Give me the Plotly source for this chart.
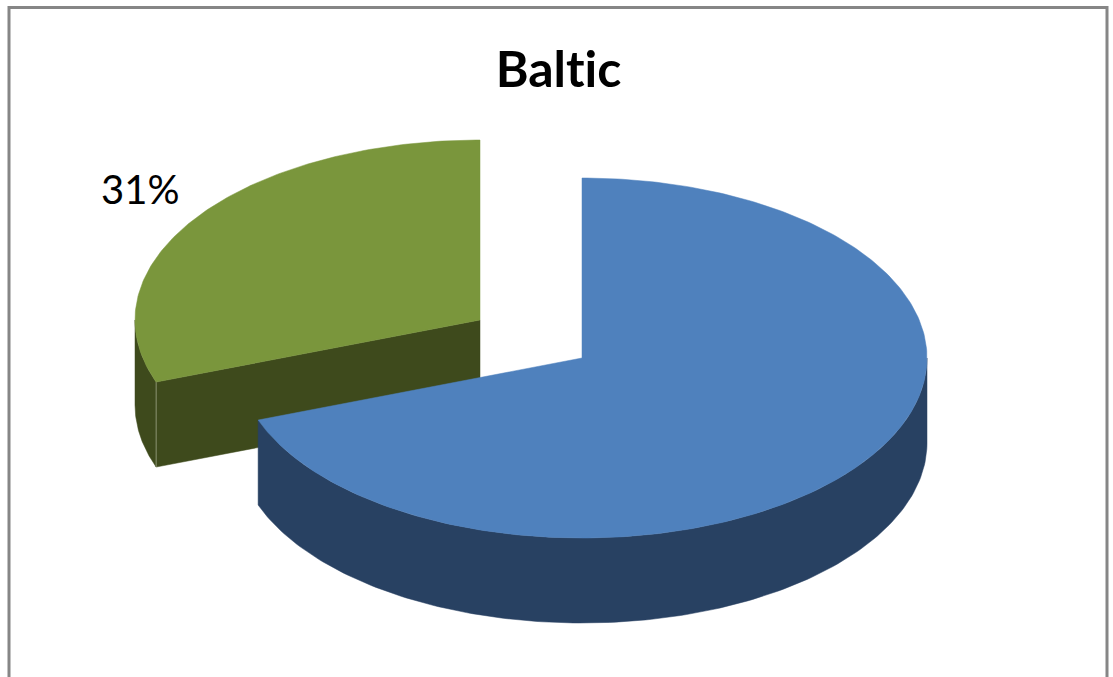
import numpy as np
import plotly.graph_objects as go

TITLE = "Baltic"
CATEGORIES = ["Other", "Selected"]
SHARES = [69.4, 30.6]
LABELS = ["", "31%"]
TOP_COLORS = ["#4f81bd", "#7a963c"]
SIDE_COLORS = ["#284162", "#3e4a1c"]

W, H = 1113, 677
RX, RY, DEPTH = 345, 180, 85
C_BLUE = (582, 358)
C_GREEN = (480, 320)


def arc(c, t0, t1, dy=0, n=160):
    t = np.radians(np.linspace(t0, t1, n))
    return c[0] + RX * np.sin(t), c[1] - RY * np.cos(t) + dy


def poly(xs, ys, color, name):
    return go.Scatter(x=np.r_[xs, xs[0]], y=np.r_[ys, ys[0]], mode="lines", fill="toself",
                      fillcolor=color, line=dict(color=color, width=0.5),
                      hoverinfo="name", name=name, showlegend=False)


split = 360 * SHARES[1] / sum(SHARES)  # green runs anticlockwise from 12 o'clock
fig = go.Figure()

# green slice: outer wall, cut wall, top
ax, ay = arc(C_GREEN, -90, -split)
bx, by = arc(C_GREEN, -split, -90, DEPTH)
fig.add_trace(poly(np.r_[ax, bx], np.r_[ay, by], SIDE_COLORS[1], CATEGORIES[1]))
ex, ey = arc(C_GREEN, -split, -split, n=1)
fig.add_trace(poly(np.array([C_GREEN[0], ex[0], ex[0], C_GREEN[0]]),
                   np.array([C_GREEN[1], ey[0], ey[0] + DEPTH, C_GREEN[1] + DEPTH]),
                   SIDE_COLORS[1], CATEGORIES[1]))
fig.add_trace(go.Scatter(x=[ex[0], ex[0]], y=[ey[0], ey[0] + DEPTH], mode="lines",
                         line=dict(color="#8a9270", width=1), hoverinfo="skip", showlegend=False))
tx, ty = arc(C_GREEN, 0, -split)
fig.add_trace(poly(np.r_[C_GREEN[0], tx], np.r_[C_GREEN[1], ty], TOP_COLORS[1], CATEGORIES[1]))

# blue slice: outer wall, top
ax, ay = arc(C_BLUE, 90, 360 - split)
bx, by = arc(C_BLUE, 360 - split, 90, DEPTH)
fig.add_trace(poly(np.r_[ax, bx], np.r_[ay, by], SIDE_COLORS[0], CATEGORIES[0]))
tx, ty = arc(C_BLUE, 0, 360 - split, n=300)
fig.add_trace(poly(np.r_[C_BLUE[0], tx], np.r_[C_BLUE[1], ty], TOP_COLORS[0], CATEGORIES[0]))

fig.add_annotation(x=140, y=189, xref="x", yref="y", text=LABELS[1], showarrow=False,
                   font=dict(family="Lato, Carlito, sans-serif", size=40, color="#000000"))

# chart frame, open at the bottom
fig.add_shape(type="path", xref="x", yref="y", path=f"M 9 {H+5} L 9 7.5 L 1107 7.5 L 1107 {H+5}",
              line=dict(color="#868686", width=3))

fig.update_layout(
    title=dict(text=f"<b>{TITLE}</b>", x=558.5 / W, xanchor="center", y=1 - 69 / H, yanchor="middle",
               font=dict(family="Lato, Carlito, sans-serif", size=50, color="#000000")),
    width=W, height=H, autosize=False,
    margin=dict(l=0, r=0, t=0, b=0), paper_bgcolor="#ffffff", plot_bgcolor="#ffffff", showlegend=False,
    xaxis=dict(range=[0, W], visible=False, fixedrange=True),
    yaxis=dict(range=[H, 0], visible=False, fixedrange=True),
)
POST = ("document.body.style.margin='0';document.body.style.overflow='hidden';"
        "var s=document.createElement('style');"
        "s.textContent='text{font-variant-ligatures:none !important;"
        "font-feature-settings:\"liga\" 0,\"clig\" 0 !important}';document.head.appendChild(s);")
fig.write_html("out.html", config={"displayModeBar": False}, post_script=POST)
